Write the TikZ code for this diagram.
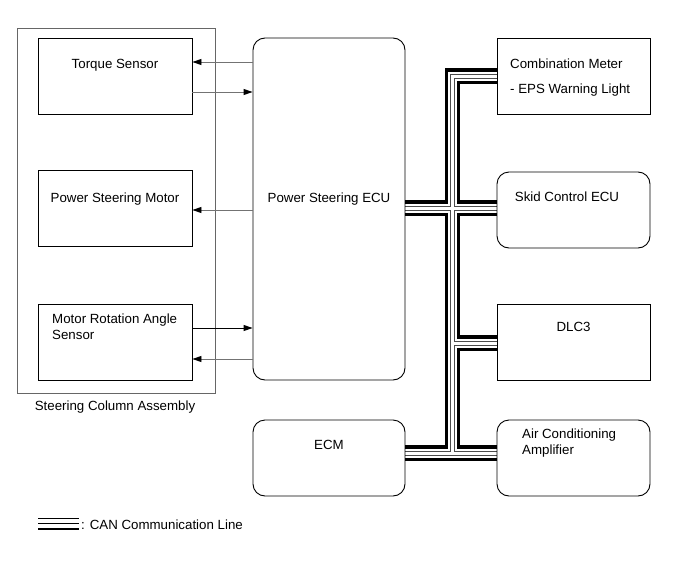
\documentclass[tikz,border=0pt]{standalone}
\usepackage{fontspec}
\setmainfont{Liberation Sans}
\usetikzlibrary{arrows.meta}
\pgfdeclarelayer{bg}
\pgfsetlayers{bg,main}
\tikzset{
  box/.style={draw=black, line width=0.9pt, minimum width=154pt, minimum height=76pt, inner sep=0pt},
  rbox/.style={box, rounded corners=12pt},
  lbl/.style={inner sep=0pt, font=\fontsize{13.3}{16}\selectfont, anchor=base},
  lblw/.style={lbl, anchor=base west},
  arr/.style={draw=black!55, line width=0.9pt, -{Triangle[length=9pt,width=6pt,color=black]}},
  arrk/.style={draw=black, line width=0.9pt, -{Triangle[length=9pt,width=6pt,color=black]}},
  outerbox/.style={draw=black!60, line width=0.9pt},
  busA/.style={draw=black, line width=15.5pt, line join=miter, line cap=butt},
  busB/.style={draw=white, line width=9pt, line join=miter, line cap=butt},
  busC/.style={draw=black!70, line width=5pt, line join=miter, line cap=butt},
  busD/.style={draw=white, line width=3pt, line join=miter, line cap=butt},
}
\newcommand\canbuslines[1]{%
  \draw[#1] (cm.west) -- (bt) -- (bb);
  \draw[#1] (ecu.east |- 0,208) -- (skid.west |- 0,208);
  \draw[#1] (bt |- 0,343) -- (dlc.west |- 0,343);
  \draw[#1] (ecm.east |- bb) -- (ac.west |- bb);
}
\begin{document}
\begin{tikzpicture}[x=1pt, y=-1pt]
\begin{pgfonlayer}{bg}
\fill[white] (0,0) rectangle (691,562);
\end{pgfonlayer}
\useasboundingbox (0,0) rectangle (691,562);

% outer assembly box
\draw[outerbox] (17,28) rectangle (215,393);
\node[lbl] (sca) at (115,410) {Steering Column Assembly};

% left boxes
\node[box] (ts) at (115,76) {};
\node[lbl] (tst) at (115,68) {Torque Sensor};
\node[box] (psm) at (115,208) {};
\node[lbl] (psmt) at (115,202) {Power Steering Motor};
\node[box] (mras) at (115,342) {};
\node[lblw] (mrast1) at (52,323) {Motor Rotation Angle};
\node[lblw] (mrast2) at (52,339) {Sensor};

% middle boxes
\node[rbox, minimum width=152pt, minimum height=342pt] (ecu) at (329,209) {};
\node[lbl] (ecut) at (329,202) {Power Steering ECU};
\node[rbox, minimum width=152pt] (ecm) at (329,458) {};
\node[lbl] (ecmt) at (329,449) {ECM};

% right boxes
\node[box, minimum width=153pt] (cm) at (573.5,76) {};
\node[lblw] (cmt1) at (510,68) {Combination Meter};
\node[lblw] (cmt2) at (510,93) {- EPS Warning Light};
\node[rbox, minimum width=153pt] (skid) at (573.5,210) {};
\node[lbl] (skidt) at (567,201) {Skid Control ECU};
\node[box, minimum width=153pt] (dlc) at (573.5,342) {};
\node[lbl] (dlct) at (573.5,331) {DLC3};
\node[rbox, minimum width=153pt] (ac) at (573.5,458) {};
\node[lblw] (act1) at (522,438) {Air Conditioning};
\node[lblw] (act2) at (522,454) {Amplifier};

% signal arrows
\draw[arr] (ecu.west |- 0,62) -- (ts.east |- 0,62);
\draw[arr] (ts.east |- 0,92) -- (ecu.west |- 0,92);
\draw[arr] (ecu.west |- 0,210) -- (psm.east |- 0,210);
\draw[arrk] (mras.east |- 0,328) -- (ecu.west |- 0,328);
\draw[arr] (ecu.west |- 0,359) -- (mras.east |- 0,359);

% CAN bus
\coordinate (bt) at (452.5,76);
\coordinate (bb) at (452.5,453);
\begin{pgfonlayer}{bg}
\canbuslines{busA}
\canbuslines{busB}
\canbuslines{busC}
\canbuslines{busD}
\end{pgfonlayer}

% legend
\draw[draw=black, line width=1.5pt] (38,518.5) -- (79,518.5);
\draw[draw=black, line width=1pt] (38,523.5) -- (79,523.5);
\draw[draw=black, line width=2pt] (38,528.5) -- (79,528.5);
\node[lblw] (leg) at (81,529) {: CAN Communication Line};
\end{tikzpicture}
\end{document}
